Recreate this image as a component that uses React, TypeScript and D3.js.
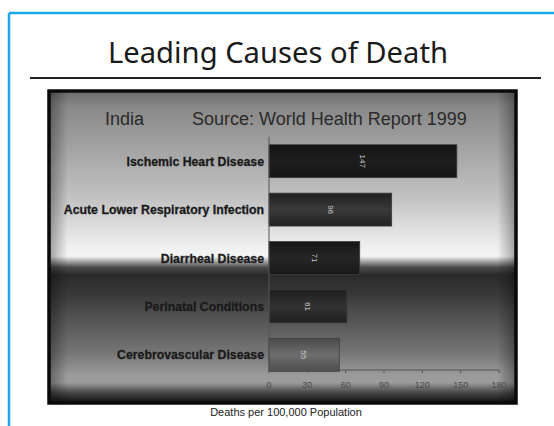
import React from "react";
import * as d3 from "d3";

const categories = [
  "Ischemic Heart Disease",
  "Acute Lower Respiratory Infection",
  "Diarrheal Disease",
  "Perinatal Conditions",
  "Cerebrovascular Disease",
];
const values = [147, 96, 71, 61, 55];
const tickValues = [0, 30, 60, 90, 120, 150, 180];
const barColors = [
  ["#141414", "#1e1e1e", "#161616"],
  ["#1f1f1f", "#3a3a3a", "#222222"],
  ["#161616", "#262626", "#181818"],
  ["#1d1d1d", "#333333", "#1f1f1f"],
  ["#4a4a4a", "#6e6e6e", "#4e4e4e"],
];

export default function App() {
  const W = 554;
  const H = 426;
  const x = d3.scaleLinear().domain([0, 180]).range([269, 499]);
  const y = d3
    .scaleBand<string>()
    .domain(categories)
    .range([137, 379])
    .paddingInner(0.32)
    .paddingOuter(0.16);
  const axisY = 370;
  const panel = { x: 49, y: 91, w: 467, h: 312 };
  const bgStops: [number, string][] = [
    [0, "#6a6a6a"],
    [0.05, "#888888"],
    [0.35, "#c4c4c4"],
    [0.5, "#f0f0f0"],
    [0.53, "#f4f4f4"],
    [0.565, "#4a4a4a"],
    [0.59, "#2a2a2a"],
    [0.65, "#383838"],
    [0.72, "#505050"],
    [0.84, "#767676"],
    [0.91, "#9a9a9a"],
    [0.935, "#9c9c9c"],
    [0.965, "#4a4a4a"],
    [1, "#0e0e0e"],
  ];
  return (
    <svg
      width={W}
      height={H}
      style={{ position: "absolute", left: 0, top: 0, background: "#fff" }}
    >
      <defs>
        <linearGradient id="bg" x1="0" y1="0" x2="0" y2="1">
          {bgStops.map(([o, c], i) => (
            <stop key={i} offset={o} stopColor={c} />
          ))}
        </linearGradient>
        <linearGradient id="vig" x1="0" y1="0" x2="1" y2="0">
          <stop offset="0" stopColor="#000" stopOpacity={0.35} />
          <stop offset="0.04" stopColor="#000" stopOpacity={0} />
          <stop offset="0.96" stopColor="#000" stopOpacity={0} />
          <stop offset="1" stopColor="#000" stopOpacity={0.35} />
        </linearGradient>
        {barColors.map((c, i) => (
          <linearGradient key={i} id={`bar${i}`} x1="0" y1="0" x2="0" y2="1">
            <stop offset="0" stopColor={c[0]} />
            <stop offset="0.5" stopColor={c[1]} />
            <stop offset="1" stopColor={c[2]} />
          </linearGradient>
        ))}
      </defs>
      {/* blue frame */}
      <line x1={9} y1={13} x2={9} y2={H} stroke="#1aa8e8" strokeWidth={2.5} />
      <line x1={9} y1={13} x2={W} y2={13} stroke="#1aa8e8" strokeWidth={2.5} />
      {/* title */}
      <text
        x={278}
        y={63}
        textAnchor="middle"
        fontFamily="'Noto Sans', 'DejaVu Sans', sans-serif"
        fontSize={29}
        textLength={340}
        lengthAdjust="spacingAndGlyphs"
        fill="#1a1a1a"
      >
        Leading Causes of Death
      </text>
      <line x1={30} y1={78} x2={541} y2={78} stroke="#222" strokeWidth={2} />
      {/* panel */}
      <rect x={panel.x} y={panel.y} width={panel.w} height={panel.h} fill="url(#bg)" />
      <rect x={panel.x} y={panel.y} width={panel.w} height={panel.h} fill="url(#vig)" />
      <rect
        x={panel.x}
        y={panel.y}
        width={panel.w}
        height={panel.h}
        fill="none"
        stroke="#0a0a0a"
        strokeWidth={3.5}
      />
      <g fontFamily="'Liberation Sans', Arial, sans-serif">
        <text x={105} y={125} fontSize={18} fill="#2a2a2a">
          India
        </text>
        <text x={192} y={125} fontSize={18} fill="#2a2a2a">
          Source: World Health Report 1999
        </text>
        {categories.map((c, i) => {
          const by = y(c)!;
          const bh = y.bandwidth();
          const bw = x(values[i]) - x(0);
          return (
            <g key={c}>
              <rect
                x={x(0)}
                y={by}
                width={bw}
                height={bh}
                fill={`url(#bar${i})`}
                stroke="#3c3c3c"
                strokeWidth={0.8}
              />
              <text
                x={264}
                y={by + bh / 2 + 4.5}
                textAnchor="end"
                fontSize={12.3}
                fontWeight="bold"
                fill="#1a1a1a"
                stroke="#1a1a1a"
                strokeWidth={0.3}
              >
                {c}
              </text>
              <text
                transform={`translate(${x(0) + bw / 2},${by + bh / 2}) rotate(90)`}
                textAnchor="middle"
                dy="0.35em"
                fontSize={8}
                fill="#c8c8c8"
              >
                {values[i]}
              </text>
            </g>
          );
        })}
        <line x1={x(0)} y1={y(categories[0])! - 8} x2={x(0)} y2={axisY} stroke="#555" strokeWidth={1} />
        <line x1={x(0)} y1={axisY} x2={x(180)} y2={axisY} stroke="#555" strokeWidth={1} />
        {tickValues.map((t) => (
          <g key={t}>
            <line x1={x(t)} y1={axisY} x2={x(t)} y2={axisY + 3} stroke="#555" strokeWidth={1} />
            <text
              x={x(t)}
              y={axisY + 18}
              textAnchor="middle"
              fontSize={9}
              fill="#4a4a4a"
            >
              {t}
            </text>
          </g>
        ))}
        <text x={286} y={416} textAnchor="middle" fontSize={11} fill="#222">
          Deaths per 100,000 Population
        </text>
      </g>
    </svg>
  );
}
